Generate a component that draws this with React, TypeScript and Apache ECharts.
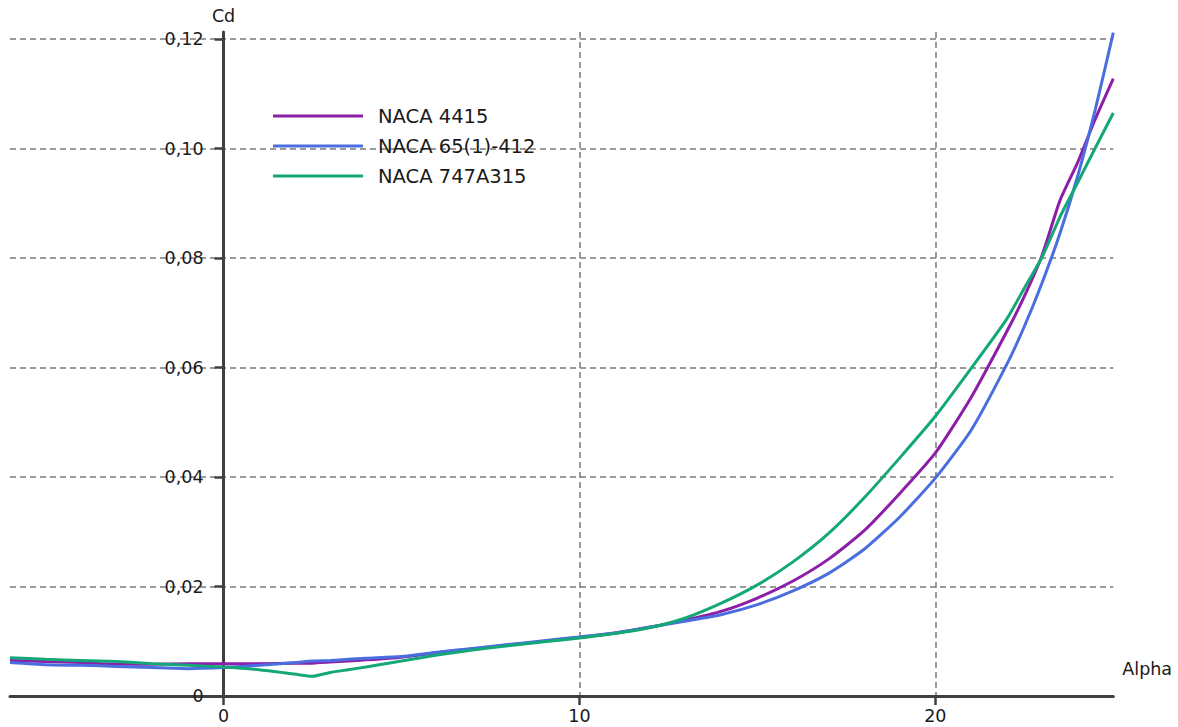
import React, { useEffect, useRef } from "react";
import * as echarts from "echarts";

const alpha = [-6, -5, -4, -3, -2, -1, 0, 1, 2, 2.5, 3, 3.5, 4, 5, 6, 7, 8, 9, 10, 11, 12, 13, 14, 15, 16, 17, 18, 19, 20, 21, 22, 22.5, 23, 23.5, 24, 24.5, 25];

const naca4415 = [0.0065, 0.0063, 0.0061, 0.0058, 0.0058, 0.0059, 0.0059, 0.0059, 0.006, 0.006, 0.0062, 0.0064, 0.0066, 0.0071, 0.0079, 0.0086, 0.0093, 0.01, 0.0107, 0.0115, 0.0126, 0.0139, 0.0155, 0.0179, 0.021, 0.025, 0.0302, 0.037, 0.0444, 0.0545, 0.0665, 0.073, 0.0805, 0.0905, 0.0975, 0.1055, 0.1128];

const naca65 = [0.0061, 0.0057, 0.0056, 0.0054, 0.0052, 0.005, 0.0052, 0.0056, 0.0061, 0.0064, 0.0065, 0.0067, 0.0069, 0.0072, 0.008, 0.0087, 0.0094, 0.0101, 0.0108, 0.0115, 0.0126, 0.0137, 0.0149, 0.0167, 0.0192, 0.0224, 0.0268, 0.0327, 0.0398, 0.0485, 0.0605, 0.0675, 0.0755, 0.0845, 0.095, 0.1073, 0.1212];

const naca747 = [0.007, 0.0067, 0.0065, 0.0063, 0.0059, 0.0056, 0.0053, 0.0048, 0.004, 0.0036, 0.0043, 0.0048, 0.0053, 0.0064, 0.0075, 0.0084, 0.0092, 0.0099, 0.0106, 0.0114, 0.0125, 0.0143, 0.017, 0.0203, 0.0245, 0.0297, 0.0362, 0.0435, 0.0511, 0.0598, 0.0688, 0.0745, 0.0802, 0.0875, 0.0938, 0.1002, 0.1065];

const seriesNames = ["NACA 4415", "NACA 65(1)-412", "NACA 747A315"];
const seriesColors = ["#8c1ea8", "#4a6ee0", "#14a878"];
const seriesValues = [naca4415, naca65, naca747];

const xTicks = [0, 10, 20];
const yTicks = [0, 0.02, 0.04, 0.06, 0.08, 0.1, 0.12];

const FONT = "DejaVu Sans";
const X_MIN = -6;
const X_MAX = 25;
const GRID_LEFT = 10;
const GRID_RIGHT = 64.7;
const WIDTH = 1178;

export default function App() {
  const ref = useRef<HTMLDivElement>(null);
  useEffect(() => {
    if (!ref.current) return;
    const chart = echarts.init(ref.current, null, { renderer: "svg" });
    const plotW = WIDTH - GRID_LEFT - GRID_RIGHT;
    const yAxisOffset = -((0 - X_MIN) / (X_MAX - X_MIN)) * plotW;
    const option: any = {
      animation: false,
      backgroundColor: "#ffffff",
      grid: { left: GRID_LEFT, right: GRID_RIGHT, top: 32, bottom: 31, containLabel: false, outerBoundsMode: "none" },
      legend: {
        orient: "vertical",
        left: 273,
        top: 106,
        padding: 0,
        itemWidth: 90,
        itemHeight: 3,
        itemGap: 10,
        icon: "rect",
        textStyle: { fontFamily: FONT, fontSize: 19.5, color: "#1a1a1a", lineHeight: 20, padding: [0, 0, 0, 10] },
        data: seriesNames,
      },
      xAxis: {
        type: "value",
        min: X_MIN,
        max: X_MAX,
        splitNumber: 3,
        name: "Alpha",
        nameLocation: "end",
        nameGap: 9,
        nameTextStyle: { fontFamily: FONT, fontSize: 17.5, color: "#1a1a1a", align: "left", verticalAlign: "bottom", lineHeight: 20, padding: [0, 0, 17, 0] },
        axisLine: { show: true, onZero: false, lineStyle: { color: "#404040", width: 3 } },
        axisTick: { show: true, inside: false, length: 9, customValues: xTicks, lineStyle: { color: "#404040", width: 2.5 } },
        axisLabel: { customValues: xTicks, margin: 11, fontFamily: FONT, fontSize: 17.5, color: "#1a1a1a", formatter: (v: number) => String(v) },
        splitLine: { show: true, showMinLine: true, showMaxLine: true, lineStyle: { color: "#7a7a7a", width: 1.5, type: [6, 4] } },
      },
      yAxis: {
        type: "value",
        position: "left",
        offset: yAxisOffset,
        min: 0,
        max: 0.1213,
        interval: 0.02,
        name: "Cd",
        nameLocation: "end",
        nameGap: 7,
        nameTextStyle: { fontFamily: FONT, fontSize: 17.5, color: "#1a1a1a", align: "center" },
        axisLine: { show: true, onZero: false, lineStyle: { color: "#404040", width: 3 } },
        axisTick: { show: true, inside: false, length: 9, customValues: yTicks.slice(1), lineStyle: { color: "#404040", width: 2.5 } },
        axisLabel: {
          customValues: yTicks,
          margin: 20,
          fontFamily: FONT,
          fontSize: 17.5,
          color: "#1a1a1a",
          formatter: (v: number) => (v === 0 ? "0" : v.toFixed(2).replace(".", ",")),
        },
        splitLine: { show: true, showMinLine: true, showMaxLine: true, lineStyle: { color: "#7a7a7a", width: 1.5, type: [6, 4] } },
      },
      series: seriesNames.map((name, i) => ({
        name,
        type: "line",
        data: alpha.map((a, j) => [a, seriesValues[i][j]]),
        showSymbol: false,
        symbol: "none",
        smooth: 0.2,
        color: seriesColors[i],
        lineStyle: { color: seriesColors[i], width: 3 },
        itemStyle: { color: seriesColors[i] },
      })),
    };
    chart.setOption(option);
    return () => chart.dispose();
  }, []);
  return <div ref={ref} style={{ position: "absolute", left: 0, top: 0, width: 1178, height: 727 }} />;
}
